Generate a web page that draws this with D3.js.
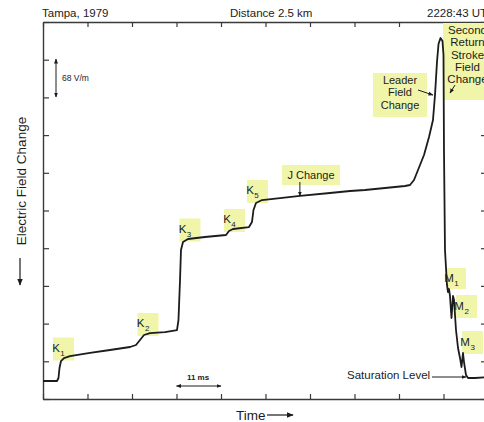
<!DOCTYPE html>
<html>
<head>
<meta charset="utf-8">
<script src="https://cdn.jsdelivr.net/npm/d3@7"></script>
<style>
  html, body { margin: 0; padding: 0; background: #fff; }
  svg { display: block; font-family: "Liberation Sans", Arial, sans-serif; }
</style>
</head>
<body>
<svg id="chart" width="484" height="422"></svg>
<script>
// Electric field record of a flash: time in ms, field change in V/m
const timeMs = [0, 3.46, 3.83, 4.08, 4.45, 5.19, 6.67, 11.62, 16.56, 21.51, 22.99, 23.98, 24.97, 26.45,
  30.16, 33.12, 33.49, 33.87, 34.11, 34.61, 35.84, 40.04, 45.24, 45.98, 46.97, 50.92, 51.66, 52.03,
  52.65, 54.13, 58.58, 63.53, 70.94, 75.89, 79.6, 84.54, 89.48, 90.72, 91.71, 92.7, 94.18, 95.42,
  96.4, 96.9, 97.39, 97.77, 98.26, 98.75, 99.0, 99.12, 99.37, 99.86, 100.11, 100.36, 100.6, 100.98,
  101.35, 101.6, 102.09, 102.59, 103.08, 103.45, 103.82, 104.07, 104.56, 105.06, 106.79, 110];
const fieldVm = [32.5, 32.5, 37.9, 55.9, 68.5, 73.9, 77.5, 83.0, 88.4, 93.8, 97.4, 106.4, 115.4, 119.0,
  120.8, 124.4, 142.5, 214.6, 268.8, 283.2, 288.6, 292.2, 295.8, 303.0, 306.6, 310.2, 319.3, 340.9,
  353.5, 358.9, 362.5, 366.2, 371.6, 375.2, 377.0, 380.6, 384.2, 386.0, 395.0, 413.1, 440.1, 472.6,
  503.2, 548.3, 607.8, 640.3, 651.1, 645.7, 620.5, 449.1, 268.8, 205.7, 193.0, 198.4, 185.8, 146.1,
  185.8, 178.6, 124.5, 92.0, 74.0, 57.7, 83.0, 66.7, 43.3, 37.9, 37.9, 39.7];

// Axis divisions: 11 ms per time division, 68 V/m per field division
const timeTicks = d3.range(0, 111, 11);
const fieldTicks = d3.range(0, 681, 68);

// Highlighted step annotations (box centre given in data units)
const stepLabels = ["K", "K", "K", "K", "K", "M", "M", "M"];
const stepSubs = ["1", "2", "3", "4", "5", "1", "2", "3"];
const stepTime = [5.07, 25.96, 36.34, 47.34, 53.02, 102.2, 104.7, 106.2];
const stepField = [90.2, 134.4, 304.8, 322.0, 374.3, 217.3, 166.8, 101.9];

const svg = d3.select("#chart");
const x = d3.scaleLinear().domain([0, 110]).range([43, 488]);
const y = d3.scaleLinear().domain([0, 680]).range([399, 22]);

const ink = "#1c1c1c";
const axisInk = "#3a3a3a";
const hilite = "#f1f5aa";

// arrow markers
const defs = svg.append("defs");
defs.append("marker").attr("id", "ah").attr("viewBox", "0 0 10 10")
  .attr("refX", 9).attr("refY", 5).attr("markerWidth", 7).attr("markerHeight", 7)
  .attr("orient", "auto-start-reverse").attr("markerUnits", "userSpaceOnUse")
  .append("path").attr("d", "M0,1 L10,5 L0,9 Z").attr("fill", ink);
defs.append("marker").attr("id", "ahs").attr("viewBox", "0 0 10 10")
  .attr("refX", 9).attr("refY", 5).attr("markerWidth", 5).attr("markerHeight", 5)
  .attr("orient", "auto-start-reverse").attr("markerUnits", "userSpaceOnUse")
  .append("path").attr("d", "M0,1 L10,5 L0,9 Z").attr("fill", ink);

// annotation boxes (drawn first so the trace sits on top)
const boxes = svg.append("g");
// Leader Field Change
boxes.append("rect").attr("x", x(88.25) - 27).attr("y", y(548.3) - 22)
  .attr("width", 54).attr("height", 44).attr("fill", hilite);
// J Change
boxes.append("rect").attr("x", x(66.25) - 29).attr("y", y(404.0) - 10)
  .attr("width", 58).attr("height", 20).attr("fill", hilite);
// K and M steps
stepLabels.forEach((lab, i) => {
  const cx = x(stepTime[i]), cy = y(stepField[i]);
  const w = i === 5 ? 19 : 21, h = i === 5 ? 21 : 23;
  boxes.append("rect").attr("x", cx - w / 2).attr("y", cy - h / 2)
    .attr("width", w).attr("height", h).attr("fill", hilite);
});

// frame and inward ticks
const axG = svg.append("g").attr("class", "axes");
function styleAxis(g) {
  g.selectAll("path.domain").attr("stroke", axisInk).attr("stroke-width", 1.4);
  g.selectAll(".tick line").attr("stroke", axisInk).attr("stroke-width", 1.2);
  g.selectAll(".tick text").remove();
}
axG.append("g").attr("transform", `translate(${x(0)},0)`)
  .call(d3.axisLeft(y).tickValues(fieldTicks).tickSize(-6).tickSizeOuter(0).tickFormat(""))
  .call(styleAxis);
axG.append("g").attr("transform", `translate(${x(110)},0)`)
  .call(d3.axisRight(y).tickValues(fieldTicks).tickSize(-7).tickSizeOuter(0).tickFormat(""))
  .call(styleAxis);
axG.append("g").attr("transform", `translate(0,${y(680)})`)
  .call(d3.axisTop(x).tickValues(timeTicks).tickSize(-5).tickSizeOuter(0).tickFormat(""))
  .call(styleAxis);
axG.append("g").attr("transform", `translate(0,${y(0)})`)
  .call(d3.axisBottom(x).tickValues(timeTicks).tickSize(-5).tickSizeOuter(0).tickFormat(""))
  .call(styleAxis);

// Second Return Stroke Field Change box, laid over the frame's top-right ticks
svg.append("rect").attr("x", x(104.8) - 24).attr("y", y(609.7) - 38)
  .attr("width", 50).attr("height", 77).attr("fill", hilite);

// field record trace
const pts = timeMs.map((t, i) => [t, fieldVm[i]]);
svg.append("path")
  .datum(pts)
  .attr("fill", "none")
  .attr("stroke", ink)
  .attr("stroke-width", 1.8)
  .attr("stroke-linejoin", "round")
  .attr("d", d3.line().x(d => x(d[0])).y(d => y(d[1])).curve(d3.curveLinear));

// header
const head = svg.append("g").attr("fill", ink).attr("font-size", 11.5);
head.append("text").attr("x", 42).attr("y", 17).text("Tampa, 1979");
head.append("text").attr("x", 230).attr("y", 17).text("Distance 2.5 km");
head.append("text").attr("x", 427).attr("y", 17).text("2228:43 UT");

// scale bars
svg.append("line").attr("x1", 56).attr("x2", 56).attr("y1", 97).attr("y2", 59)
  .attr("stroke", ink).attr("stroke-width", 1)
  .attr("marker-start", "url(#ahs)").attr("marker-end", "url(#ahs)");
svg.append("text").attr("x", 62).attr("y", 81).attr("font-size", 8.5).attr("fill", ink).text("68 V/m");

svg.append("line").attr("x1", x(33)).attr("x2", x(44)).attr("y1", 386).attr("y2", 386)
  .attr("stroke", ink).attr("stroke-width", 1)
  .attr("marker-start", "url(#ahs)").attr("marker-end", "url(#ahs)");
svg.append("text").attr("x", 198).attr("y", 380).attr("text-anchor", "middle")
  .attr("font-size", 8).attr("font-weight", "bold").attr("fill", ink).text("11 ms");

// axis titles
svg.append("text").attr("transform", "translate(26,181) rotate(-90)")
  .attr("text-anchor", "middle").attr("font-size", 13.5).attr("fill", ink).text("Electric Field Change");
svg.append("line").attr("x1", 20).attr("x2", 20).attr("y1", 258).attr("y2", 285)
  .attr("stroke", ink).attr("stroke-width", 1.2).attr("marker-end", "url(#ah)");
svg.append("text").attr("x", 236).attr("y", 420).attr("font-size", 13.5).attr("fill", ink).text("Time");
svg.append("line").attr("x1", 267).attr("x2", 293).attr("y1", 415).attr("y2", 415)
  .attr("stroke", ink).attr("stroke-width", 1.2).attr("marker-end", "url(#ah)");

// saturation level
svg.append("text").attr("x", 347).attr("y", 379).attr("font-size", 11.5).attr("fill", ink).text("Saturation Level");
svg.append("line").attr("x1", 432).attr("x2", 466).attr("y1", 377).attr("y2", 377)
  .attr("stroke", ink).attr("stroke-width", 1).attr("marker-end", "url(#ahs)");

// multi-line labels
function lines(cx, top, arr, size) {
  const g = svg.append("g").attr("font-size", size).attr("fill", ink).attr("text-anchor", "middle");
  arr.forEach((s, i) => g.append("text").attr("x", cx).attr("y", top + i * 12.3).text(s));
}
lines(x(88.25), 84, ["Leader", "Field", "Change"], 11);
svg.append("line").attr("x1", 418).attr("y1", 90).attr("x2", 433).attr("y2", 95)
  .attr("stroke", ink).attr("stroke-width", 1).attr("marker-end", "url(#ahs)");
lines(467.5, 34, ["Second", "Return", "Stroke", "Field", "Change"], 11.5);
svg.append("line").attr("x1", 455).attr("y1", 85).attr("x2", 450).attr("y2", 93)
  .attr("stroke", ink).attr("stroke-width", 1).attr("marker-end", "url(#ahs)");

// J change
svg.append("text").attr("x", x(66.25)).attr("y", 179).attr("text-anchor", "middle")
  .attr("font-size", 11).attr("fill", ink).text("J Change");
svg.append("line").attr("x1", x(63.5)).attr("x2", x(63.5)).attr("y1", 182).attr("y2", 196)
  .attr("stroke", ink).attr("stroke-width", 1).attr("marker-end", "url(#ahs)");

// K / M step labels with subscripts
stepLabels.forEach((lab, i) => {
  const cx = x(stepTime[i]), cy = y(stepField[i]);
  const t = svg.append("text").attr("x", cx - 5).attr("y", cy + 3)
    .attr("text-anchor", "middle").attr("font-size", 11.5).attr("fill", ink);
  t.append("tspan").text(lab);
  t.append("tspan").attr("dx", 0.5).attr("dy", 4).attr("font-size", 8).text(stepSubs[i]);
});
</script>
</body>
</html>
